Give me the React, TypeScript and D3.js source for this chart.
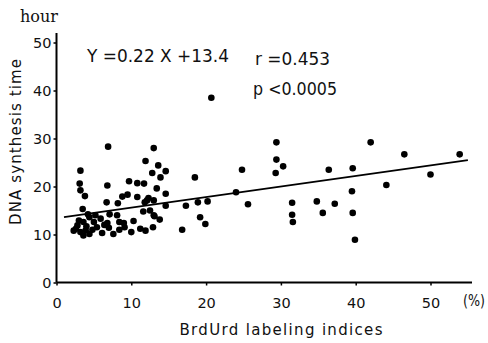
import React, { useRef, useEffect } from "react";
import * as d3 from "d3";

// BrdUrd labeling index (%) of each case
const labelingIndex = [
  29.4, 30.3, 29.3, 36.4, 39.6, 46.5, 53.9, 50.0, 44.1, 39.5,
  25.6, 31.5, 31.5, 31.6, 34.8, 35.6, 37.2, 39.6, 39.9, 24.8,
  29.4, 42.0, 20.7, 24.0, 18.5, 18.9, 20.2, 19.2, 19.9, 16.8,
  17.3, 3.2, 3.1, 3.2, 3.8, 3.5, 6.8, 6.7, 8.2, 8.8,
  9.5, 9.7, 10.8, 11.7, 10.8, 11.9, 13.0, 6.9, 13.6, 12.8,
  14.6, 13.9, 13.4, 14.6, 12.1, 13.0, 11.8, 14.6, 12.5, 11.6,
  13.0, 13.8, 12.9, 11.2, 11.9, 10.3, 10.0, 9.1, 8.4, 8.4,
  9.0, 8.1, 7.6, 7.0, 6.8, 7.1, 5.9, 6.1, 5.4, 5.0,
  4.4, 4.4, 4.0, 3.6, 3.2, 2.8, 2.3, 3.0, 3.6, 4.2,
  2.6, 3.9, 5.2, 4.8, 6.4, 12.3, 13.1,
];

// DNA synthesis time (hour) of each case
const synthesisTime = [
  25.6, 24.2, 22.8, 23.5, 23.8, 26.7, 26.7, 22.5, 20.3, 19.0,
  16.3, 16.6, 14.1, 12.6, 16.9, 14.5, 16.4, 14.5, 8.9, 23.5,
  29.2, 29.2, 38.5, 18.8, 21.9, 16.7, 16.9, 13.6, 12.2, 11.0,
  16.0, 23.3, 20.6, 19.2, 18.0, 15.3, 20.2, 16.7, 16.5, 17.9,
  18.3, 21.1, 20.7, 20.6, 17.8, 25.3, 28.0, 28.3, 24.4, 22.8,
  23.2, 21.9, 19.6, 18.5, 17.1, 17.1, 16.7, 16.0, 15.0, 14.8,
  14.0, 13.1, 11.5, 11.2, 10.8, 12.8, 10.5, 11.5, 11.0, 12.6,
  12.4, 14.0, 10.1, 11.4, 12.4, 14.2, 13.3, 10.3, 11.5, 12.6,
  13.6, 10.1, 11.7, 9.8, 10.5, 11.9, 10.8, 12.9, 12.6, 14.2,
  11.2, 10.9, 14.0, 11.0, 12.0, 17.6, 13.8,
];

const xTicks = [0, 10, 20, 30, 40, 50];
const yTicks = [0, 10, 20, 30, 40, 50];

// regression line Y = 0.22X + 13.4
const slope = 0.22;
const intercept = 13.4;
const fitRange = [1, 55];

const App = () => {
  const svgRef = useRef<SVGSVGElement>(null);

  useEffect(() => {
    const svg = d3.select(svgRef.current);
    svg.selectAll("*").remove();

    const font = "'DejaVu Sans', sans-serif";

    const x = d3.scaleLinear().domain([0, 50]).range([56.5, 430.5]);
    const y = d3.scaleLinear().domain([0, 50]).range([282.5, 42.5]);

    const g = svg.append("g");

    // X axis
    const xAxis = g
      .append("g")
      .attr("transform", `translate(0,${y(0)})`)
      .call(
        d3.axisBottom(x).tickValues(xTicks).tickSize(3).tickFormat(d3.format("d"))
      );
    xAxis.select(".domain").attr("d", `M${x(0)},0H472`).attr("stroke-width", 2);
    xAxis.selectAll(".tick line").attr("stroke-width", 1.5);
    xAxis
      .selectAll(".tick text")
      .attr("y", 15)
      .attr("dy", "0.71em")
      .style("font-family", font)
      .style("font-size", "14.5px")
      .attr("fill", "#111");

    // Y axis
    const yAxis = g
      .append("g")
      .attr("transform", `translate(${x(0)},0)`)
      .call(
        d3.axisLeft(y).tickValues(yTicks).tickSize(3).tickFormat(d3.format("d"))
      );
    yAxis.select(".domain").attr("d", `M0,${y(0)}V33`).attr("stroke-width", 2);
    yAxis.selectAll(".tick line").attr("stroke-width", 1.5);
    yAxis
      .selectAll(".tick text")
      .attr("x", -5)
      .style("font-family", font)
      .style("font-size", "14.5px")
      .attr("fill", "#111");

    // regression line
    g.append("line")
      .attr("x1", x(fitRange[0]))
      .attr("y1", y(slope * fitRange[0] + intercept))
      .attr("x2", x(fitRange[1]))
      .attr("y2", y(slope * fitRange[1] + intercept))
      .attr("stroke", "#000")
      .attr("stroke-width", 1.8);

    // points
    g.selectAll("circle")
      .data(labelingIndex.map((v, i) => [v, synthesisTime[i]]))
      .enter()
      .append("circle")
      .attr("cx", (d) => x(d[0]))
      .attr("cy", (d) => y(d[1]))
      .attr("r", 3.3)
      .attr("fill", "#000");

    // annotations
    const txt = (tx, ty, s, size, len?) => {
      const t = svg
        .append("text")
        .attr("x", tx)
        .attr("y", ty)
        .style("font-family", font)
        .style("font-size", size + "px")
        .attr("fill", "#111")
        .text(s);
      if (len) t.attr("textLength", len).attr("lengthAdjust", "spacingAndGlyphs");
      return t;
    };

    txt(87, 62, "Y =0.22 X +13.4", 18, 142);
    txt(255, 65, "r =0.453", 17, 75);
    txt(253, 95, "p <0.0005", 17, 84);
    txt(463, 306, "(%)", 15, 22);

    svg
      .append("text")
      .attr("x", 20)
      .attr("y", 22)
      .style("font-family", "'DejaVu Serif', serif")
      .style("font-size", "16px")
      .attr("fill", "#111")
      .attr("textLength", 38)
      .attr("lengthAdjust", "spacingAndGlyphs")
      .text("hour");

    svg
      .append("text")
      .attr("transform", "translate(21,142) rotate(-90)")
      .attr("text-anchor", "middle")
      .style("font-family", font)
      .style("font-size", "15px")
      .attr("fill", "#111")
      .attr("textLength", 166)
      .text("DNA synthesis time");

    svg
      .append("text")
      .attr("x", 281)
      .attr("y", 335)
      .attr("text-anchor", "middle")
      .style("font-family", font)
      .style("font-size", "15px")
      .attr("fill", "#111")
      .attr("textLength", 203)
      .text("BrdUrd labeling indices");
  }, []);

  return (
    <svg
      ref={svgRef}
      width={488}
      height={343}
      style={{ position: "absolute", left: 0, top: 0, background: "#fff" }}
    ></svg>
  );
};

export default App;
